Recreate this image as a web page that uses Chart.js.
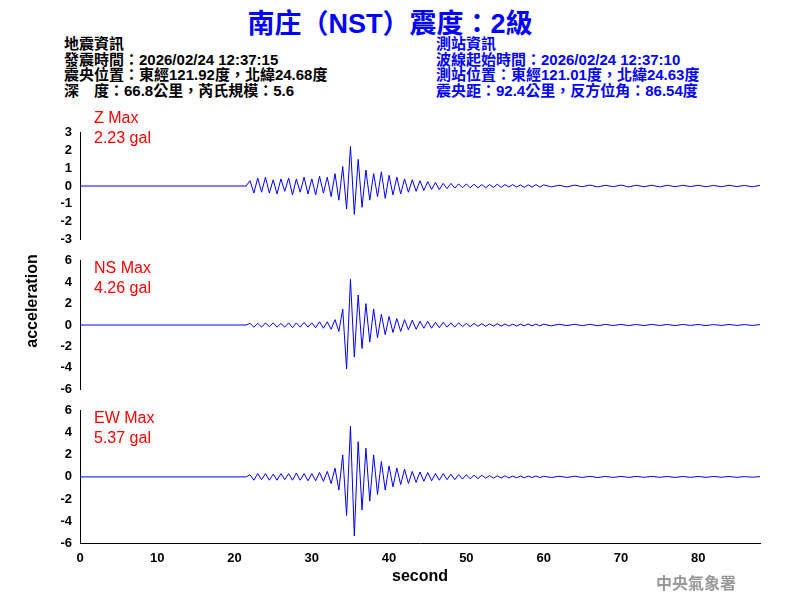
<!DOCTYPE html>
<html><head><meta charset="utf-8">
<script src="https://cdn.jsdelivr.net/npm/chart.js@4"></script>
<style>
body{margin:0;width:800px;height:600px;background:#fff;position:relative;overflow:hidden;font-family:"Liberation Sans",Arial,sans-serif}
.t{position:absolute;white-space:nowrap;font-family:"Liberation Sans","Noto Sans CJK TC",sans-serif}
.info{font-size:15px;line-height:15.6px;font-weight:bold}
.box{position:absolute;left:0;width:765px}
.lab{color:#f00;font-size:16px;line-height:20px}
</style></head><body>
<div class="t" style="left:0;width:780px;top:2px;text-align:center;color:#00f;font-size:27px;font-weight:bold">南庄（NST）震度：2級</div>
<div class="t info" style="left:64px;top:36px">地震資訊<br>發震時間：2026/02/24 12:37:15<br>震央位置：東經121.92度，北緯24.68度<br>深　度：66.8公里，芮氏規模：5.6</div>
<div class="t info" style="left:436px;top:36px;color:#00f">測站資訊<br>波線起始時間：2026/02/24 12:37:10<br>測站位置：東經121.01度，北緯24.63度<br>震央距：92.4公里，反方位角：86.54度</div>
<div class="box" style="top:122px;height:128px"><canvas id="cz"></canvas></div>
<div class="box" style="top:250px;height:150px"><canvas id="cn"></canvas></div>
<div class="box" style="top:400px;height:190px"><canvas id="ce"></canvas></div>
<div class="t lab" style="left:94px;top:108px">Z Max<br>2.23 gal</div>
<div class="t lab" style="left:94px;top:258px">NS Max<br>4.26 gal</div>
<div class="t lab" style="left:94px;top:408px">EW Max<br>5.37 gal</div>
<div class="t" style="left:-18px;top:292px;font-size:16px;font-weight:bold;transform:rotate(-90deg);width:100px;text-align:center">acceleration</div>
<div class="t" style="left:656px;top:570px;color:#999;font-size:16px;font-weight:bold;font-family:'Noto Sans CJK TC'">中央氣象署</div>
<script>
// samples every 0.5 s from 22 s to 60 s
const zVals = [0.3,-0.4,0.45,-0.35,0.5,-0.4,0.35,-0.45,0.4,-0.3,
  0.45,-0.5,0.4,-0.35,0.5,-0.45,0.4,-0.5,0.55,-0.4,
  0.5,-0.6,0.7,-0.8,1.1,-1.3,2.23,-1.6,1.5,-1.2,
  0.9,-0.8,0.7,-0.6,0.8,-0.7,0.6,-0.5,0.5,-0.45,
  0.4,-0.35,0.35,-0.3,0.3,-0.25,0.25,-0.2,0.2,-0.2,
  0.15,-0.15,0.15,-0.12,0.12,-0.1,0.12,-0.1,0.1,-0.1,
  0.08,-0.1,0.08,-0.08,0.1,-0.08,0.08,-0.06,0.08,-0.06,
  0.06,-0.08,0.06,-0.06,0.08,-0.06,0.06];
const nsVals = [0.15,-0.2,0.15,-0.2,0.2,-0.15,0.2,-0.2,0.15,-0.2,
  0.2,-0.25,0.2,-0.2,0.25,-0.2,0.2,-0.25,0.3,-0.3,
  0.3,-0.4,0.5,-0.6,1.5,-4.1,4.26,-3.0,2.8,-2.2,
  2.0,-1.6,1.5,-1.2,1.0,-0.9,0.8,-0.7,0.6,-0.6,
  0.5,-0.45,0.45,-0.4,0.35,-0.3,0.35,-0.3,0.25,-0.25,
  0.25,-0.2,0.2,-0.2,0.2,-0.15,0.15,-0.15,0.15,-0.12,
  0.12,-0.12,0.1,-0.1,0.12,-0.1,0.1,-0.1,0.08,-0.1,
  0.08,-0.08,0.1,-0.08,0.08,-0.08,0.08];
const ewVals = [0.2,-0.3,0.3,-0.25,0.3,-0.3,0.25,-0.3,0.3,-0.25,
  0.3,-0.3,0.35,-0.3,0.3,-0.35,0.3,-0.35,0.4,-0.4,
  0.5,-0.6,0.8,-1.2,2.0,-3.5,4.6,-5.37,3.2,-3.0,
  2.6,-2.2,2.0,-1.6,1.4,-1.2,1.0,-0.9,0.8,-0.7,
  0.7,-0.6,0.5,-0.5,0.45,-0.4,0.4,-0.35,0.3,-0.3,
  0.3,-0.25,0.25,-0.25,0.2,-0.2,0.2,-0.18,0.15,-0.15,
  0.15,-0.12,0.12,-0.12,0.1,-0.1,0.1,-0.1,0.08,-0.08,
  0.08,-0.08,0.08,-0.06,0.08,-0.06,0.06];
// samples every 1 s from 61 s to 88 s
const zTail = [-0.05,0.04,-0.05,0.05,-0.04,0.05,-0.05,0.04,-0.04,0.05,-0.05,0.04,-0.04,0.04,-0.05,0.04,-0.04,0.04,-0.03,0.04,-0.04,0.03,-0.04,0.04,-0.03,0.03,-0.04,0.03];
const nsTail = [-0.08,0.07,-0.06,0.07,-0.06,0.06,-0.07,0.06,-0.05,0.06,-0.06,0.05,-0.05,0.06,-0.05,0.05,-0.05,0.05,-0.04,0.05,-0.05,0.04,-0.04,0.05,-0.04,0.04,-0.04,0.04];
const ewTail = [-0.06,0.06,-0.05,0.06,-0.05,0.05,-0.06,0.05,-0.05,0.05,-0.05,0.05,-0.04,0.05,-0.04,0.04,-0.05,0.04,-0.04,0.04,-0.04,0.04,-0.03,0.04,-0.04,0.03,-0.03,0.03];
const xTicks = [0,10,20,30,40,50,60,70,80];

function series(vals, tail) {
  const pts = [{x:0,y:0},{x:21.5,y:0}];
  vals.forEach((v,i) => pts.push({x:22+i*0.5, y:v}));
  tail.forEach((v,i) => pts.push({x:61+i, y:v}));
  return pts;
}

const tickFont = {family:'"Liberation Sans"', size:13, weight:'bold'};

function makeChart(id, data, lim, step, showX) {
  const xScale = {type: 'linear', min: 0, max: 88, display: showX,
    grid: {display: false, tickLength: 5},
    border: {color: '#000'},
    afterBuildTicks: s => { s.ticks = xTicks.map(v => ({value: v})); },
    ticks: {color: '#000', font: tickFont, maxRotation: 0, autoSkip: false},
    title: {display: true, text: 'second', color: '#000', font: {family: '"Liberation Sans"', size: 16, weight: 'bold'}, padding: {top: 4}}};
  if (showX) xScale.afterFit = s => { s.height = 47; };
  new Chart(document.getElementById(id), {
    type: 'line',
    data: {datasets: [{data: data, borderColor: '#0000ff', borderWidth: 1, pointRadius: 0, tension: 0}]},
    options: {
      responsive: true, maintainAspectRatio: false, animation: false,
      layout: {padding: {top: 8, bottom: showX ? 0 : 8, right: 5, left: 0}},
      plugins: {legend: {display: false}, tooltip: {enabled: false}},
      scales: {
        x: xScale,
        y: {min: -lim, max: lim,
            grid: {display: false, tickLength: 5},
            border: {color: '#000'},
            ticks: {stepSize: step, color: '#000', font: tickFont, autoSkip: false},
            afterFit: s => { s.width = 80; }}
      }
    }
  });
}

makeChart('cz', series(zVals, zTail), 3, 1, false);
makeChart('cn', series(nsVals, nsTail), 6, 2, false);
makeChart('ce', series(ewVals, ewTail), 6, 2, true);
</script>
</body></html>
